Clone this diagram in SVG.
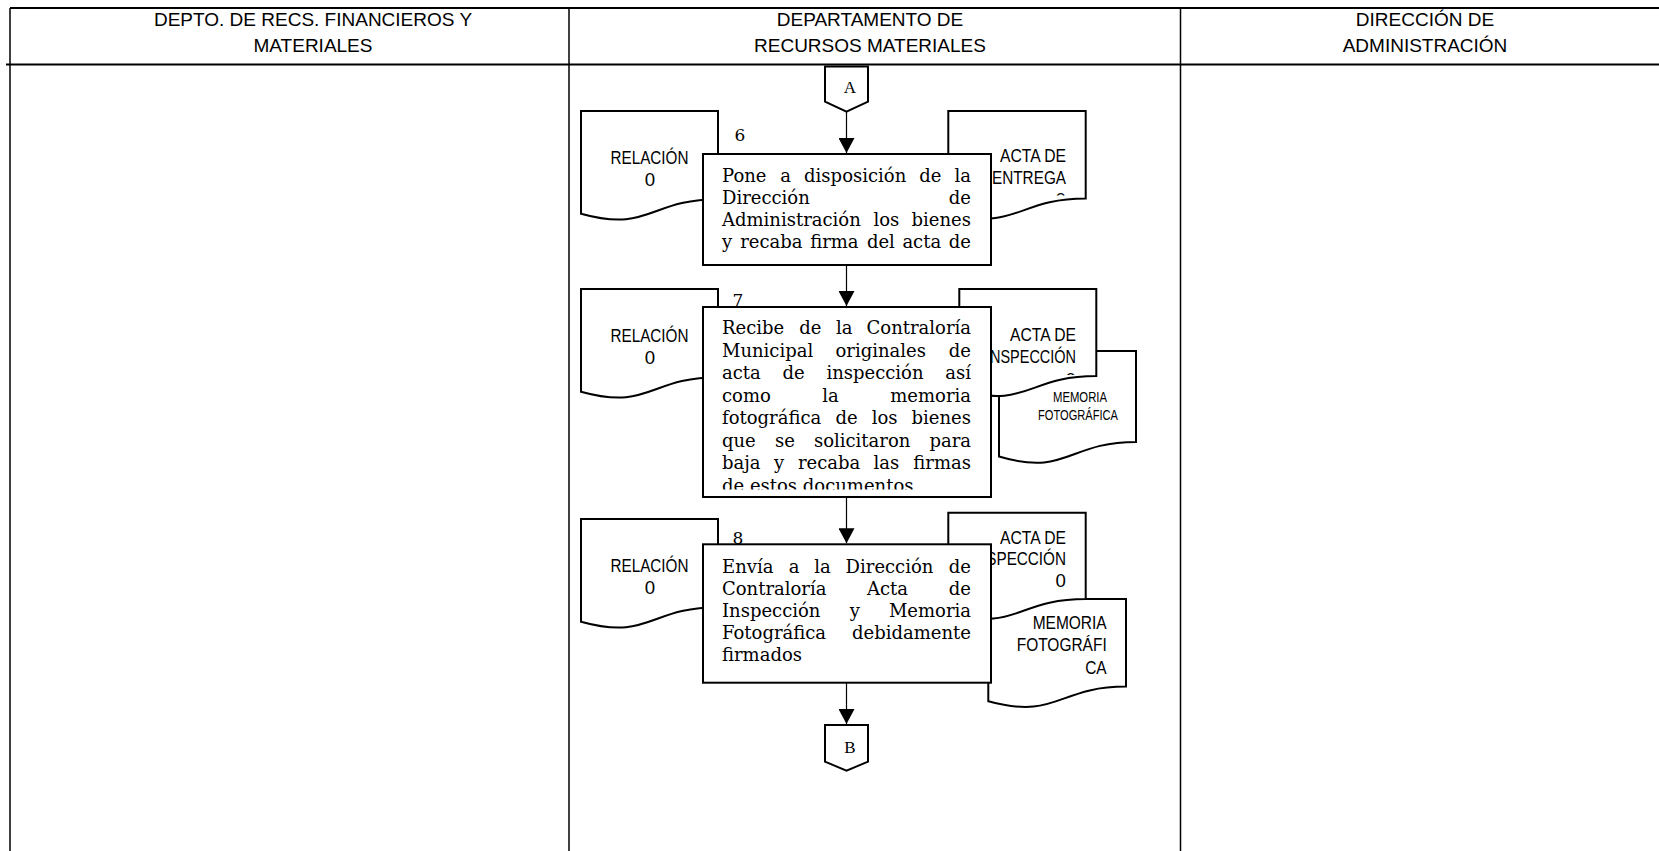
<svg xmlns="http://www.w3.org/2000/svg" width="1659" height="851" viewBox="0 0 1659 851">
  <style>
    .frame { stroke: #000; stroke-width: 1.5; fill: none; }
    .hline { stroke: #000; stroke-width: 2; fill: none; }
    .hdr { font-family: "Liberation Sans", Arial, sans-serif; font-size: 19px; text-anchor: middle; fill: #000; }
    .box { fill: #fff; stroke: #000; stroke-width: 2; }
    .doc { fill: #fff; stroke: #000; stroke-width: 2; }
    .lbl { font-family: "Liberation Sans Narrow", "Liberation Sans", Arial, sans-serif; font-size: 18.67px; fill: #000; }
    .lbl-s { font-family: "Liberation Sans Narrow", "Liberation Sans", Arial, sans-serif; font-size: 14.67px; fill: #000; }
    .mid { text-anchor: middle; }
    .end { text-anchor: end; }
    .t { font-family: "DejaVu Serif", "Liberation Serif", serif; font-size: 18px; fill: #000; }
    .num { font-family: "DejaVu Serif", "Liberation Serif", serif; font-size: 17px; text-anchor: middle; fill: #000; }
    .off { fill: #fff; stroke: #000; stroke-width: 2; }
    .offt { font-family: "Liberation Serif", "Times New Roman", serif; font-size: 17px; text-anchor: middle; fill: #000; }
    .conn { stroke: #000; stroke-width: 1.2; fill: none; marker-end: url(#arr); }
  </style>
  <defs>
    <marker id="arr" markerUnits="userSpaceOnUse" markerWidth="15" markerHeight="16" refX="15" refY="8" orient="auto">
      <path d="M0,0 L15,8 L0,16 Z" fill="#000"/>
    </marker>
    <clipPath id="clip-box7"><rect x="703" y="307" width="288" height="182.5"/></clipPath>
    <clipPath id="clip-acta6"><rect x="948" y="111" width="140" height="84.5"/></clipPath>
    <clipPath id="clip-acta7"><rect x="959" y="289" width="140" height="86"/></clipPath>
  </defs>

  <rect width="1659" height="851" fill="#fff"/>

  <!-- swimlane frame -->
  <g id="lanes">
    <line class="hline" x1="10" y1="8" x2="1659" y2="8"/>
    <line class="hline" x1="6" y1="64.5" x2="1659" y2="64.5"/>
    <line class="frame" x1="10" y1="8" x2="10" y2="851"/>
    <line class="frame" x1="569" y1="8" x2="569" y2="851"/>
    <line class="frame" x1="1180.5" y1="8" x2="1180.5" y2="851"/>
  </g>

  <g id="lane-headers">
    <text class="hdr" x="313" y="26">DEPTO. DE RECS. FINANCIEROS Y</text>
    <text class="hdr" x="313" y="51.5">MATERIALES</text>
    <text class="hdr" x="870" y="26">DEPARTAMENTO DE</text>
    <text class="hdr" x="870" y="51.5">RECURSOS MATERIALES</text>
    <text class="hdr" x="1425" y="26">DIRECCIÓN DE</text>
    <text class="hdr" x="1425" y="51.5">ADMINISTRACIÓN</text>
  </g>

  <!-- off-page connector A -->
  <g id="node-A">
    <path class="off" d="M825,66.5 H868 V101.7 L846.5,111.7 L825,101.7 Z"/>
    <text class="offt" x="850" y="93">A</text>
  </g>

  <!-- step 6 documents -->
  <g id="doc-relacion-6">
    <path class="doc" d="M581,111 H718 V199.2 C649.5,199.2 649.5,232.8 581,213.7 Z"/>
    <text class="lbl mid" x="649.5" y="163.5" textLength="78" lengthAdjust="spacingAndGlyphs">RELACIÓN</text>
    <text class="lbl mid" x="650" y="186">0</text>
  </g>
  <g id="doc-acta-entrega-6">
    <path class="doc" d="M948.3,111 H1085.7 V198.4 C1017,198.4 1017,231.7 948.3,212.8 Z"/>
    <g clip-path="url(#clip-acta6)">
      <text class="lbl end" x="1066" y="162" textLength="66" lengthAdjust="spacingAndGlyphs">ACTA DE</text>
      <text class="lbl end" x="1066" y="183.5" textLength="74" lengthAdjust="spacingAndGlyphs">ENTREGA</text>
      <text class="lbl end" x="1066" y="205.5">0</text>
    </g>
  </g>
  <g id="step-6">
    <text class="num" x="740" y="141">6</text>
    <rect class="box" x="703" y="154" width="288" height="111"/>
    <text class="t" x="722" y="182">Pone</text>
    <text class="t" x="780.3" y="182">a</text>
    <text class="t" x="804.1" y="182">disposición</text>
    <text class="t" x="919.3" y="182">de</text>
    <text class="t end" x="971" y="182">la</text>
    <text class="t" x="722" y="204">Dirección</text>
    <text class="t end" x="971" y="204">de</text>
    <text class="t" x="722" y="226">Administración</text>
    <text class="t" x="873.4" y="226">los</text>
    <text class="t end" x="971" y="226">bienes</text>
    <text class="t" x="722" y="248">y</text>
    <text class="t" x="740.2" y="248">recaba</text>
    <text class="t" x="810.2" y="248">firma</text>
    <text class="t" x="866.9" y="248">del</text>
    <text class="t" x="902.4" y="248">acta</text>
    <text class="t end" x="971" y="248">de</text>
  </g>

  <!-- step 7 documents -->
  <g id="doc-relacion-7">
    <path class="doc" d="M581,289 H718 V377.2 C649.5,377.2 649.5,410.8 581,391.7 Z"/>
    <text class="lbl mid" x="649.5" y="341.5" textLength="78" lengthAdjust="spacingAndGlyphs">RELACIÓN</text>
    <text class="lbl mid" x="650" y="364">0</text>
  </g>
  <g id="doc-memoria-7">
    <path class="doc" d="M999,351 H1136 V442 C1067.5,442 1067.5,476.6 999,456.5 Z"/>
    <text class="lbl-s mid" x="1080" y="401.5" textLength="54" lengthAdjust="spacingAndGlyphs">MEMORIA</text>
    <text class="lbl-s mid" x="1078" y="420" textLength="80" lengthAdjust="spacingAndGlyphs">FOTOGRÁFICA</text>
  </g>
  <g id="doc-acta-inspeccion-7">
    <path class="doc" d="M959.3,289 H1096.3 V376 C1027.8,376 1027.8,409.1 959.3,390.3 Z"/>
    <g clip-path="url(#clip-acta7)">
      <text class="lbl end" x="1076" y="341" textLength="66" lengthAdjust="spacingAndGlyphs">ACTA DE</text>
      <text class="lbl end" x="1076" y="363.3" textLength="90" lengthAdjust="spacingAndGlyphs">INSPECCIÓN</text>
      <text class="lbl end" x="1076" y="386">0</text>
    </g>
  </g>
  <g id="step-7">
    <text class="num" x="738" y="306">7</text>
    <rect class="box" x="703" y="307" width="288" height="190"/>
    <g clip-path="url(#clip-box7)">
      <text class="t" x="722" y="334">Recibe</text>
      <text class="t" x="799.2" y="334">de</text>
      <text class="t" x="836" y="334">la</text>
      <text class="t end" x="971" y="334">Contraloría</text>
      <text class="t" x="722" y="356.6">Municipal</text>
      <text class="t" x="835.5" y="356.6">originales</text>
      <text class="t end" x="971" y="356.6">de</text>
      <text class="t" x="722" y="379.1">acta</text>
      <text class="t" x="782.5" y="379.1">de</text>
      <text class="t" x="826.4" y="379.1">inspección</text>
      <text class="t end" x="971" y="379.1">así</text>
      <text class="t" x="722" y="401.7">como</text>
      <text class="t" x="822.2" y="401.7">la</text>
      <text class="t end" x="971" y="401.7">memoria</text>
      <text class="t" x="722" y="424.3">fotográfica</text>
      <text class="t" x="835.6" y="424.3">de</text>
      <text class="t" x="871.7" y="424.3">los</text>
      <text class="t end" x="971" y="424.3">bienes</text>
      <text class="t" x="722" y="446.9">que</text>
      <text class="t" x="774.9" y="446.9">se</text>
      <text class="t" x="813.9" y="446.9">solicitaron</text>
      <text class="t end" x="971" y="446.9">para</text>
      <text class="t" x="722" y="469.4">baja</text>
      <text class="t" x="774" y="469.4">y</text>
      <text class="t" x="797.9" y="469.4">recaba</text>
      <text class="t" x="873.6" y="469.4">las</text>
      <text class="t end" x="971" y="469.4">firmas</text>
      <text class="t" x="722" y="492">de estos documentos</text>
    </g>
  </g>

  <!-- step 8 documents -->
  <g id="doc-relacion-8">
    <path class="doc" d="M581,519 H718 V607.2 C649.5,607.2 649.5,640.8 581,621.7 Z"/>
    <text class="lbl mid" x="649.5" y="571.5" textLength="78" lengthAdjust="spacingAndGlyphs">RELACIÓN</text>
    <text class="lbl mid" x="650" y="594">0</text>
  </g>
  <g id="doc-memoria-8">
    <path class="doc" d="M988.3,599 H1126 V686.6 C1057.2,686.6 1057.2,720.1 988.3,701.2 Z"/>
    <text class="lbl end" x="1106.7" y="629.3" textLength="74" lengthAdjust="spacingAndGlyphs">MEMORIA</text>
    <text class="lbl end" x="1106.7" y="651" textLength="90" lengthAdjust="spacingAndGlyphs">FOTOGRÁFI</text>
    <text class="lbl end" x="1106.7" y="674.3" textLength="21.5" lengthAdjust="spacingAndGlyphs">CA</text>
  </g>
  <g id="doc-acta-inspeccion-8">
    <path class="doc" d="M948.3,512.7 H1085.7 V599 C1017,599 1017,631.9 948.3,613.2 Z"/>
    <text class="lbl end" x="1066" y="543.5" textLength="66" lengthAdjust="spacingAndGlyphs">ACTA DE</text>
    <text class="lbl end" x="1066" y="565" textLength="95" lengthAdjust="spacingAndGlyphs">INSPECCIÓN</text>
    <text class="lbl end" x="1066" y="587.3">0</text>
  </g>
  <g id="step-8">
    <text class="num" x="738" y="544">8</text>
    <rect class="box" x="703" y="544.3" width="288" height="138.4"/>
    <text class="t" x="722" y="572.5">Envía</text>
    <text class="t" x="788.7" y="572.5">a</text>
    <text class="t" x="814.2" y="572.5">la</text>
    <text class="t" x="845.6" y="572.5">Dirección</text>
    <text class="t end" x="971" y="572.5">de</text>
    <text class="t" x="722" y="594.5">Contraloría</text>
    <text class="t" x="866.9" y="594.5">Acta</text>
    <text class="t end" x="971" y="594.5">de</text>
    <text class="t" x="722" y="616.5">Inspección</text>
    <text class="t" x="849.8" y="616.5">y</text>
    <text class="t end" x="971" y="616.5">Memoria</text>
    <text class="t" x="722" y="638.5">Fotográfica</text>
    <text class="t end" x="971" y="638.5">debidamente</text>
    <text class="t" x="722" y="660.5">firmados</text>
  </g>

  <!-- off-page connector B -->
  <g id="node-B">
    <path class="off" d="M825,725 H868 V761.7 L846.5,770.7 L825,761.7 Z"/>
    <text class="offt" x="850" y="753">B</text>
  </g>

  <g id="connectors">
    <line class="conn" x1="846.5" y1="111.7" x2="846.5" y2="153"/>
    <line class="conn" x1="846.5" y1="265" x2="846.5" y2="306"/>
    <line class="conn" x1="846.5" y1="497" x2="846.5" y2="543.3"/>
    <line class="conn" x1="846.5" y1="682.7" x2="846.5" y2="724"/>
  </g>
</svg>
